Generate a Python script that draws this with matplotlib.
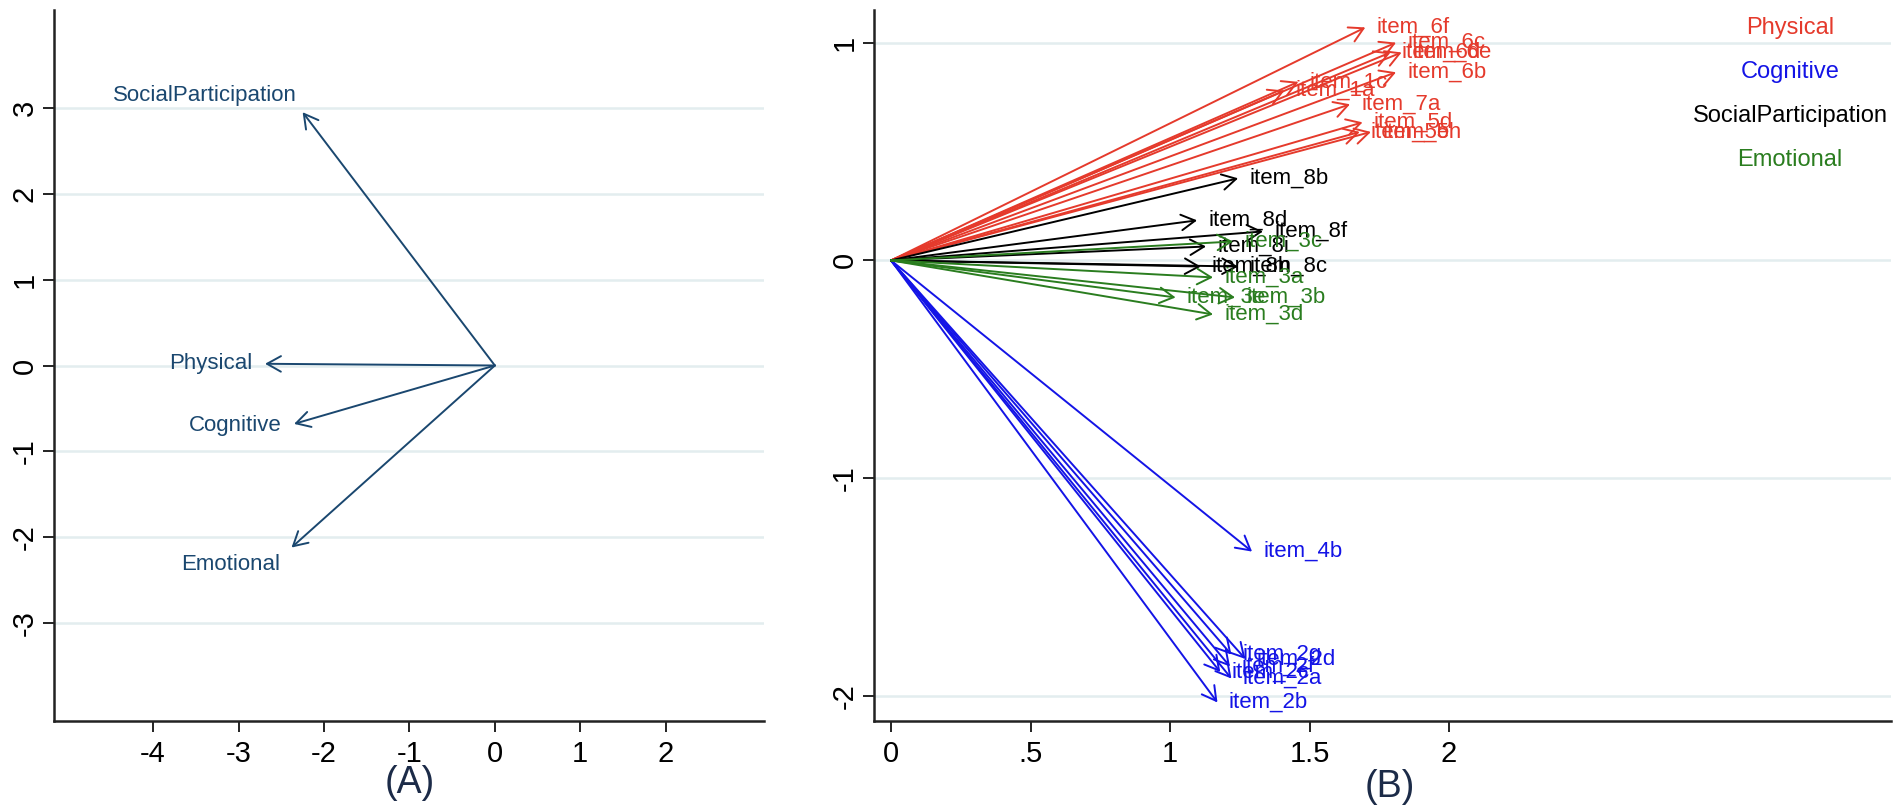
import matplotlib
matplotlib.use("Agg")
import matplotlib.pyplot as plt

plt.rcParams["font.family"] = ["Liberation Sans", "DejaVu Sans"]
plt.rcParams["axes.unicode_minus"] = False  # plain hyphen, like the source

# ── panel A: domain vectors ─────────────────────────────────────
dom_names = ["SocialParticipation", "Physical", "Cognitive", "Emotional"]
dom_x = [-2.25, -2.69, -2.35, -2.38]
dom_y = [2.95, 0.02, -0.68, -2.12]

# ── panel B: item vectors ───────────────────────────────────────
item_names = [
    "item_6f", "item_6c", "item_6e", "item_6d", "item_6b", "item_1c", "item_1a",
    "item_7a", "item_5d", "item_5e", "item_5h",
    "item_4b", "item_2g", "item_2d", "item_2f", "item_2c", "item_2a", "item_2b",
    "item_8b", "item_8d", "item_8f", "item_8i", "item_8h", "item_8c",
    "item_3c", "item_3a", "item_3e", "item_3b", "item_3d",
]
item_x = [
    1.70, 1.81, 1.83, 1.79, 1.81, 1.46, 1.41,
    1.645, 1.69, 1.68, 1.72,
    1.294, 1.22, 1.27, 1.215, 1.18, 1.22, 1.17,
    1.244, 1.097, 1.333, 1.129, 1.11, 1.244,
    1.226, 1.154, 1.02, 1.233, 1.154,
]
item_y = [
    1.07, 1.00, 0.955, 0.955, 0.864, 0.82, 0.78,
    0.717, 0.634, 0.59, 0.59,
    -1.337, -1.81, -1.83, -1.865, -1.89, -1.92, -2.03,
    0.377, 0.184, 0.133, 0.064, -0.028, -0.028,
    0.087, -0.078, -0.17, -0.17, -0.248,
]
item_group = (["Physical"] * 11 + ["Cognitive"] * 7
              + ["SocialParticipation"] * 6 + ["Emotional"] * 5)

legend_order = ["Physical", "Cognitive", "SocialParticipation", "Emotional"]
group_color = {
    "Physical": "#e53a2c",
    "Cognitive": "#1414e6",
    "SocialParticipation": "#000000",
    "Emotional": "#2a7d1f",
}

NAVY = "#1a476f"
GRID = "#e3edef"
W, H = 1902, 808

fig = plt.figure(figsize=(W / 100, H / 100), dpi=100)
axA = fig.add_axes([54 / W, 1 - 721 / H, 710 / W, 711 / H])
axB = fig.add_axes([874 / W, 1 - 721 / H, 1017 / W, 711 / H])


def style_axes(ax):
    for side in ("top", "right"):
        ax.spines[side].set_visible(False)
    for side in ("left", "bottom"):
        ax.spines[side].set_linewidth(1.8)
        ax.spines[side].set_color("#222222")
    ax.tick_params(axis="both", length=8, width=1.4, labelsize=21, color="#222222")
    ax.tick_params(axis="y", pad=3)
    ax.tick_params(axis="x", pad=6)
    for lab in ax.get_yticklabels():
        lab.set_rotation(90)
        lab.set_va("center")
    ax.yaxis.grid(True, color=GRID, lw=1.8, zorder=0)
    ax.set_axisbelow(True)


def arrow(ax, x, y, color, lw):
    ax.annotate("", xy=(x, y), xytext=(0, 0),
                arrowprops=dict(arrowstyle="->,head_length=0.5,head_width=0.28",
                                color=color, lw=lw, shrinkA=0, shrinkB=0,
                                mutation_scale=20))


# panel A
axA.set_xlim(-5.16, 3.15)
axA.set_ylim(-4.14, 4.14)
axA.set_xticks(range(-4, 3))
axA.set_yticks(range(-3, 4))
style_axes(axA)

# label offsets (points) per domain
offA = {"SocialParticipation": (-4, 12), "Physical": (-9, 0),
        "Cognitive": (-9, -1), "Emotional": (-8, -12)}
for name, x, y in zip(dom_names, dom_x, dom_y):
    arrow(axA, x, y, NAVY, 1.4)
    axA.annotate(name, xy=(x, y), xytext=offA[name], textcoords="offset points",
                 ha="right", va="center", fontsize=16, color=NAVY)

# panel B
axB.set_xlim(-0.061, 3.584)
axB.set_ylim(-2.115, 1.15)
axB.set_xticks([0, 0.5, 1, 1.5, 2])
axB.set_xticklabels(["0", ".5", "1", "1.5", "2"])
axB.set_yticks([-2, -1, 0, 1])
style_axes(axB)

for name, x, y, g in zip(item_names, item_x, item_y, item_group):
    c = group_color[g]
    arrow(axB, x, y, c, 1.4)
    axB.annotate(name, xy=(x, y), xytext=(8, 0), textcoords="offset points",
                 ha="left", va="center", fontsize=16, color=c)

for i, g in enumerate(legend_order):
    fig.text(1790 / W, 1 - (28 + 44 * i) / H, g, ha="center", va="center",
             fontsize=17, color=group_color[g])

fig.text(410 / W, 1 - 783 / H, "(A)", ha="center", va="center", fontsize=27, color="#1c2b48")
fig.text(1390 / W, 1 - 787 / H, "(B)", ha="center", va="center", fontsize=27, color="#1c2b48")

fig.savefig("out.png", dpi=100)
